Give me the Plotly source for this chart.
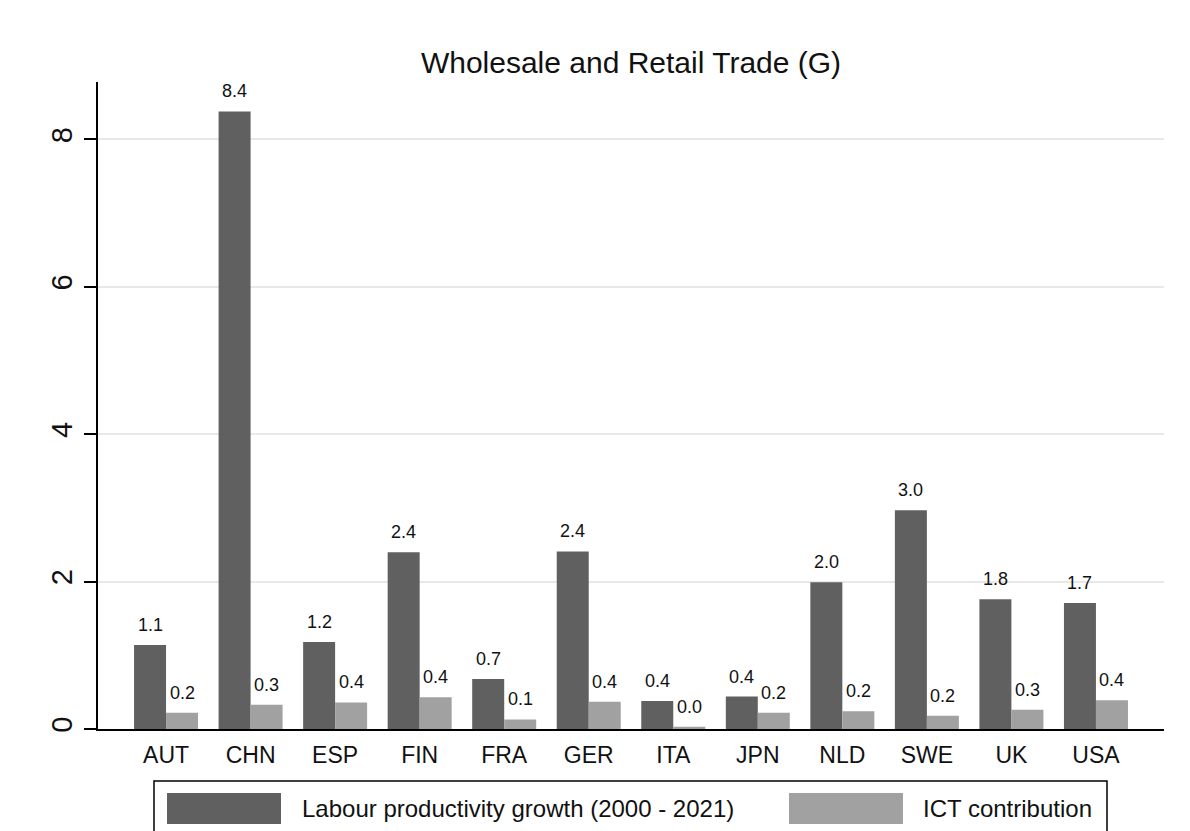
import plotly.graph_objects as go

# data
countries = ["AUT", "CHN", "ESP", "FIN", "FRA", "GER", "ITA", "JPN", "NLD", "SWE", "UK", "USA"]
lp_growth = [1.14, 8.38, 1.18, 2.40, 0.68, 2.41, 0.38, 0.44, 1.99, 2.97, 1.76, 1.71]
ict_contrib = [0.22, 0.33, 0.36, 0.43, 0.13, 0.37, 0.03, 0.22, 0.24, 0.18, 0.26, 0.39]
series_names = ["Labour productivity growth (2000 - 2021)", "ICT contribution"]
y_ticks = [0, 2, 4, 6, 8]

DARK = "#606060"
LIGHT = "#a1a1a1"
FONT = "Liberation Sans, Arial, sans-serif"

# page has an 8px body margin, so the figure is shrunk by that much
OFF = 8
W, H = 1190 - OFF, 831 - OFF
L, R, T, B = 98 - OFF, 26, 82 - OFF, 102  # plot area margins in px
pw, ph = W - L - R, H - T - B


def px_x(px):
    # page pixel -> paper x
    return (px - OFF - L) / pw


def px_y(py):
    # page pixel -> paper y
    return (OFF + H - B - py) / ph


fig = go.Figure()
fig.add_trace(go.Bar(x=countries, y=lp_growth, name=series_names[0],
                     marker=dict(color=DARK, line=dict(width=0))))
fig.add_trace(go.Bar(x=countries, y=ict_contrib, name=series_names[1],
                     marker=dict(color=LIGHT, line=dict(width=0))))

# value labels above bars
off = 0.189
annots = []
for i, (a, b) in enumerate(zip(lp_growth, ict_contrib)):
    for v, dx in ((a, -off), (b, off)):
        annots.append(dict(x=i + dx, y=v, text=f"{v:.1f}", showarrow=False,
                           xref="x", yref="y", yanchor="bottom", yshift=8,
                           font=dict(size=18, color="#111", family=FONT)))

# custom legend (Stata-like wide swatches)
shapes = [
    dict(type="rect", xref="paper", yref="paper", x0=px_x(154), x1=px_x(1107),
         y0=px_y(840), y1=px_y(781), line=dict(color="black", width=1.5),
         fillcolor="rgba(0,0,0,0)", layer="above"),
    dict(type="rect", xref="paper", yref="paper", x0=px_x(167), x1=px_x(281),
         y0=px_y(824), y1=px_y(793), line=dict(width=0), fillcolor=DARK),
    dict(type="rect", xref="paper", yref="paper", x0=px_x(789), x1=px_x(903),
         y0=px_y(824), y1=px_y(793), line=dict(width=0), fillcolor=LIGHT),
]
for name, xs in zip(series_names, (300, 921)):
    annots.append(dict(x=px_x(xs), y=px_y(808.5), xref="paper", yref="paper",
                       xanchor="left", yanchor="middle", showarrow=False, text=name,
                       font=dict(size=24, color="#111", family=FONT)))

fig.update_layout(
    width=W, height=H,
    margin=dict(l=L, r=R, t=T, b=B),
    plot_bgcolor="white", paper_bgcolor="white",
    barmode="group", bargap=0.243, bargroupgap=0,
    showlegend=False,
    title=dict(text="Wholesale and Retail Trade (G)", x=(631 - OFF) / W,
               xanchor="center", y=1 - (62 - OFF) / H, yanchor="middle",
               font=dict(size=30, color="#111", family=FONT)),
    font=dict(family=FONT, color="#111"),
    annotations=annots,
    shapes=shapes,
)
fig.update_xaxes(type="category", range=[-0.805, 11.805], showline=True,
                 linecolor="black", linewidth=2, showgrid=False,
                 ticks="outside", ticklen=4, tickcolor="rgba(0,0,0,0)",
                 tickfont=dict(size=23, family=FONT, color="#111"))
fig.update_yaxes(range=[0, 8.78], tickvals=y_ticks, showline=True,
                 linecolor="black", linewidth=2, showgrid=True,
                 gridcolor="#e8e8e8", gridwidth=2, zeroline=False,
                 ticks="outside", ticklen=12, tickwidth=2, tickcolor="black",
                 tickangle=-90, tickfont=dict(size=29, family=FONT, color="#111"))

fig.write_html("out.html")
